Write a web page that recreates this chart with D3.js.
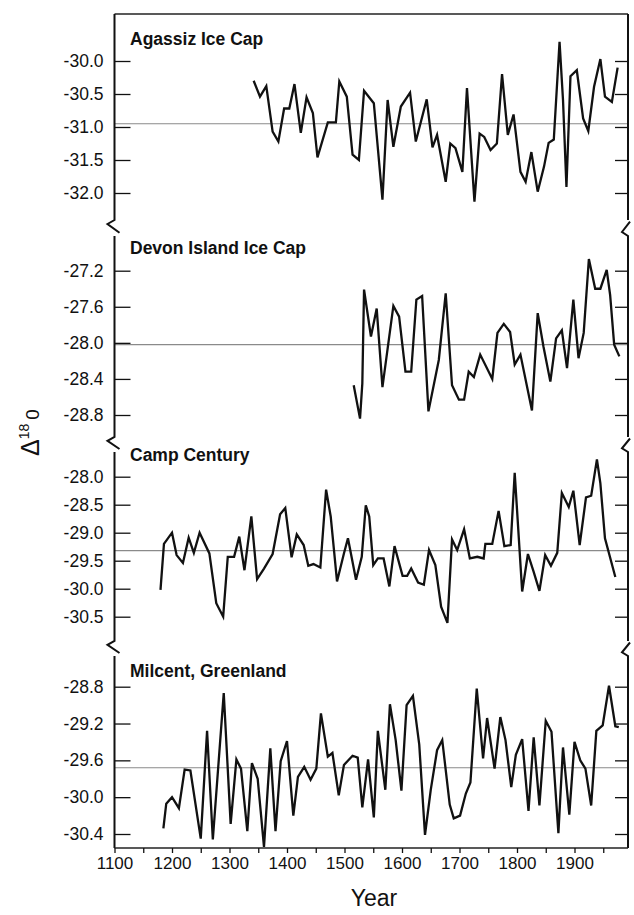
<!DOCTYPE html>
<html>
<head>
<meta charset="utf-8">
<script src="https://cdn.jsdelivr.net/npm/d3@7"></script>
<style>
  body { margin: 0; background: #fff; }
  svg { display: block; font-family: "Liberation Sans", Arial, Helvetica, sans-serif; }
</style>
</head>
<body>
<svg id="chart" width="634" height="915"></svg>
<script>
// values (decadal-ish samples, per mil)
const agassizYears = [1342,1353,1364,1375,1385,1395,1404,1413,1424,1434,1445,1453,1471,1485,1491,1504,1514,1525,1534,1551,1566,1575,1585,1598,1614,1624,1643,1653,1661,1676,1684,1693,1705,1713,1726,1735,1743,1754,1765,1774,1784,1794,1806,1815,1825,1836,1847,1855,1864,1874,1880,1886,1893,1904,1915,1924,1934,1945,1953,1965,1975];
const agassizValues = [-30.30,-30.54,-30.38,-31.07,-31.22,-30.72,-30.72,-30.35,-31.09,-30.55,-30.79,-31.46,-30.93,-30.93,-30.31,-30.54,-31.42,-31.50,-30.45,-30.64,-32.10,-30.59,-31.30,-30.69,-30.48,-31.22,-30.58,-31.31,-31.12,-31.83,-31.25,-31.32,-31.68,-30.41,-32.13,-31.10,-31.15,-31.35,-31.25,-30.20,-31.12,-30.81,-31.68,-31.83,-31.38,-31.98,-31.60,-31.24,-31.19,-29.71,-30.59,-31.91,-30.23,-30.14,-30.87,-31.06,-30.39,-29.97,-30.54,-30.62,-30.10];

const devonYears = [1516,1527,1531,1534,1546,1556,1566,1585,1595,1606,1616,1625,1635,1646,1664,1676,1687,1699,1708,1716,1725,1736,1757,1766,1777,1788,1796,1806,1826,1836,1846,1858,1868,1878,1887,1898,1907,1916,1925,1936,1945,1956,1962,1969,1978];
const devonValues = [-28.47,-28.84,-28.45,-27.41,-27.93,-27.62,-28.49,-27.59,-27.71,-28.32,-28.32,-27.52,-27.48,-28.76,-28.19,-27.45,-28.47,-28.63,-28.63,-28.32,-28.38,-28.13,-28.40,-27.89,-27.79,-27.88,-28.24,-28.13,-28.75,-27.67,-28.04,-28.43,-27.95,-27.86,-28.28,-27.52,-28.17,-27.89,-27.07,-27.40,-27.40,-27.19,-27.47,-28.02,-28.15];

const campYears = [1180,1186,1200,1208,1219,1229,1238,1248,1265,1277,1289,1297,1308,1317,1326,1338,1348,1360,1375,1388,1397,1408,1417,1429,1437,1446,1458,1468,1476,1487,1499,1506,1520,1530,1537,1543,1550,1558,1568,1578,1587,1601,1609,1616,1628,1638,1647,1658,1668,1679,1687,1696,1708,1718,1731,1742,1745,1757,1768,1778,1789,1796,1809,1819,1829,1839,1849,1859,1870,1878,1890,1898,1909,1920,1929,1939,1945,1953,1971];
const campValues = [-30.02,-29.20,-29.00,-29.40,-29.54,-29.09,-29.36,-29.00,-29.37,-30.26,-30.50,-29.43,-29.43,-29.07,-29.67,-28.71,-29.83,-29.64,-29.38,-28.67,-28.56,-29.44,-29.03,-29.22,-29.59,-29.56,-29.62,-28.23,-28.71,-29.87,-29.37,-29.10,-29.84,-29.43,-28.51,-28.71,-29.58,-29.46,-29.46,-29.96,-29.24,-29.77,-29.77,-29.64,-29.89,-29.93,-29.31,-29.58,-30.32,-30.61,-29.12,-29.31,-28.94,-29.46,-29.43,-29.46,-29.20,-29.20,-28.61,-29.24,-29.22,-27.93,-30.05,-29.38,-29.70,-30.04,-29.40,-29.59,-29.36,-28.29,-28.54,-28.25,-29.22,-28.37,-28.34,-27.69,-28.12,-29.10,-29.79];

const milcentYears = [1185,1190,1200,1212,1222,1232,1250,1261,1271,1290,1302,1312,1320,1331,1339,1349,1360,1371,1380,1389,1400,1411,1419,1430,1441,1451,1459,1471,1479,1490,1499,1514,1523,1531,1541,1551,1558,1571,1579,1589,1599,1608,1619,1630,1640,1650,1661,1670,1683,1690,1701,1711,1719,1730,1741,1748,1761,1771,1780,1790,1798,1809,1820,1829,1839,1850,1860,1872,1880,1891,1900,1910,1919,1929,1938,1949,1960,1971,1977];
const milcentValues = [-30.34,-30.07,-30.00,-30.12,-29.70,-29.71,-30.45,-29.28,-30.46,-28.87,-30.29,-29.59,-29.69,-30.37,-29.63,-29.80,-30.54,-29.47,-30.37,-29.61,-29.39,-30.20,-29.78,-29.67,-29.81,-29.69,-29.09,-29.56,-29.52,-29.98,-29.65,-29.55,-29.57,-30.11,-29.59,-30.22,-29.28,-29.92,-28.99,-29.38,-29.93,-29.00,-28.90,-29.43,-30.41,-29.92,-29.49,-29.38,-30.08,-30.23,-30.20,-29.96,-29.84,-28.82,-29.58,-29.14,-29.69,-29.13,-29.38,-29.89,-29.54,-29.37,-30.15,-29.35,-30.09,-29.17,-29.29,-30.39,-29.46,-30.19,-29.40,-29.60,-29.69,-30.09,-29.28,-29.22,-28.79,-29.23,-29.24];

const panelNames = ["Agassiz Ice Cap", "Devon Island Ice Cap", "Camp Century", "Milcent, Greenland"];
const panelMeans = [-30.95, -28.02, -29.32, -29.68];
const panelTicks = [
    [-30.0, -30.5, -31.0, -31.5, -32.0],
    [-27.2, -27.6, -28.0, -28.4, -28.8],
    [-28.0, -28.5, -29.0, -29.5, -30.0, -30.5],
    [-28.8, -29.2, -29.6, -30.0, -30.4]
];
const yearTicks = d3.range(1100, 2000, 50);

const series = [
    [agassizYears, agassizValues],
    [devonYears, devonValues],
    [campYears, campValues],
    [milcentYears, milcentValues]
];

// layout
const frameLeft = 114.5, frameRight = 628, frameTop = 14, frameBottom = 848;
// pixel rows of the first and last tick of each panel
const tickRows = [[61, 193], [270.7, 415], [476.7, 616.7], [686.7, 834]];
// vertical extent of each panel's axis segment
const segments = [[frameTop, 220], [236, 437], [452, 641], [656, frameBottom]];
const labelRows = [45, 254, 461, 677];

const svg = d3.select("#chart");

const x = d3.scaleLinear().domain([1100, 2000]).range([frameLeft, 632]);

const line = d3.line()
    .x(d => x(d[0]))
    .y(d => d[2](d[1]));

series.forEach((s, i) => {
    const t = panelTicks[i];
    const y = d3.scaleLinear()
        .domain([t[0], t[t.length - 1]])
        .range(tickRows[i]);

    const g = svg.append("g").attr("class", "panel");

    // mean line
    g.append("line")
        .attr("x1", frameLeft).attr("x2", frameRight)
        .attr("y1", y(panelMeans[i])).attr("y2", y(panelMeans[i]))
        .attr("stroke", "#8a8a8a")
        .attr("stroke-width", 1.1);

    // left ticks + labels
    g.append("g")
        .attr("transform", "translate(" + frameLeft + ",0)")
        .call(d3.axisLeft(y).tickValues(t).tickSize(-16).tickPadding(11)
            .tickFormat(d => d.toFixed(1)))
        .call(a => a.select(".domain").remove())
        .call(a => a.selectAll("line").attr("stroke", "#111").attr("stroke-width", 1.3))
        .call(a => a.selectAll("text")
            .attr("font-size", 17.5)
            .attr("fill", "#111")
            .attr("font-family", null));

    // right ticks
    g.append("g")
        .attr("transform", "translate(" + frameRight + ",0)")
        .call(d3.axisRight(y).tickValues(t).tickSize(-13).tickFormat(""))
        .call(a => a.select(".domain").remove())
        .call(a => a.selectAll("line").attr("stroke", "#111").attr("stroke-width", 1.3));

    // data line
    const pts = d3.zip(s[0], s[1]).map(p => [p[0], p[1], y]);
    g.append("path")
        .datum(pts)
        .attr("fill", "none")
        .attr("stroke", "#111")
        .attr("stroke-width", 2.3)
        .attr("stroke-linejoin", "miter")
        .attr("d", line);

    g.append("text")
        .attr("x", 130)
        .attr("y", labelRows[i])
        .attr("font-size", 17.5)
        .attr("font-weight", "bold")
        .attr("fill", "#111")
        .text(panelNames[i]);
});

// frame: top edge
svg.append("line")
    .attr("x1", frameLeft).attr("x2", frameRight)
    .attr("y1", frameTop).attr("y2", frameTop)
    .attr("stroke", "#222").attr("stroke-width", 1.3);

// left axis, broken between panels (small z-shaped break)
function leftPath(xp) {
    let d = "";
    segments.forEach((s, i) => {
        if (i === 0) d += "M" + xp + "," + s[0];
        d += "L" + xp + "," + s[1];
        if (i < segments.length - 1) {
            const next = segments[i + 1][0];
            const h = next - s[1];
            d += "L" + (xp - 7) + "," + (s[1] + h * 0.25);
            d += "L" + (xp + 5) + "," + (s[1] + h * 0.8);
            d += "M" + xp + "," + next;
        }
    });
    return d;
}
// right axis, breaks drawn as a small "<"
function rightPath(xp) {
    let d = "";
    segments.forEach((s, i) => {
        if (i === 0) d += "M" + xp + "," + s[0];
        d += "L" + xp + "," + s[1];
        if (i < segments.length - 1) {
            const next = segments[i + 1][0];
            const h = next - s[1];
            d += "M" + (xp + 2) + "," + (s[1] + h * 0.1);
            d += "L" + (xp - 6) + "," + (s[1] + h * 0.75);
            d += "L" + xp + "," + next;
        }
    });
    return d;
}
svg.append("path").attr("d", leftPath(frameLeft))
    .attr("fill", "none").attr("stroke", "#111").attr("stroke-width", 2);
svg.append("path").attr("d", rightPath(frameRight))
    .attr("fill", "none").attr("stroke", "#111").attr("stroke-width", 2);

// year axis
svg.append("g")
    .attr("transform", "translate(0," + frameBottom + ")")
    .call(d3.axisBottom(x).tickValues(yearTicks).tickSize(5).tickPadding(4)
        .tickFormat(d => d % 100 === 0 ? d : ""))
    .call(a => a.select(".domain").attr("d", "M" + frameLeft + ",0H" + frameRight)
        .attr("stroke", "#222").attr("stroke-width", 1.5))
    .call(a => a.selectAll("line").attr("stroke", "#111").attr("stroke-width", 1.3))
    .call(a => a.selectAll("text")
        .attr("font-size", 17)
        .attr("fill", "#111")
        .attr("font-family", null));

svg.append("text")
    .attr("x", 374)
    .attr("y", 906)
    .attr("text-anchor", "middle")
    .attr("font-size", 23)
    .attr("fill", "#111")
    .text("Year");

// delta 18 O label
const yl = svg.append("text")
    .attr("transform", "translate(39,456) rotate(-90)")
    .attr("fill", "#111");
yl.append("tspan").attr("font-size", 25).text("\u0394");
yl.append("tspan").attr("font-size", 14).attr("dy", -10).text("18");
yl.append("tspan").attr("font-size", 19).attr("dy", 10).attr("dx", 4).text("0");
</script>
</body>
</html>
